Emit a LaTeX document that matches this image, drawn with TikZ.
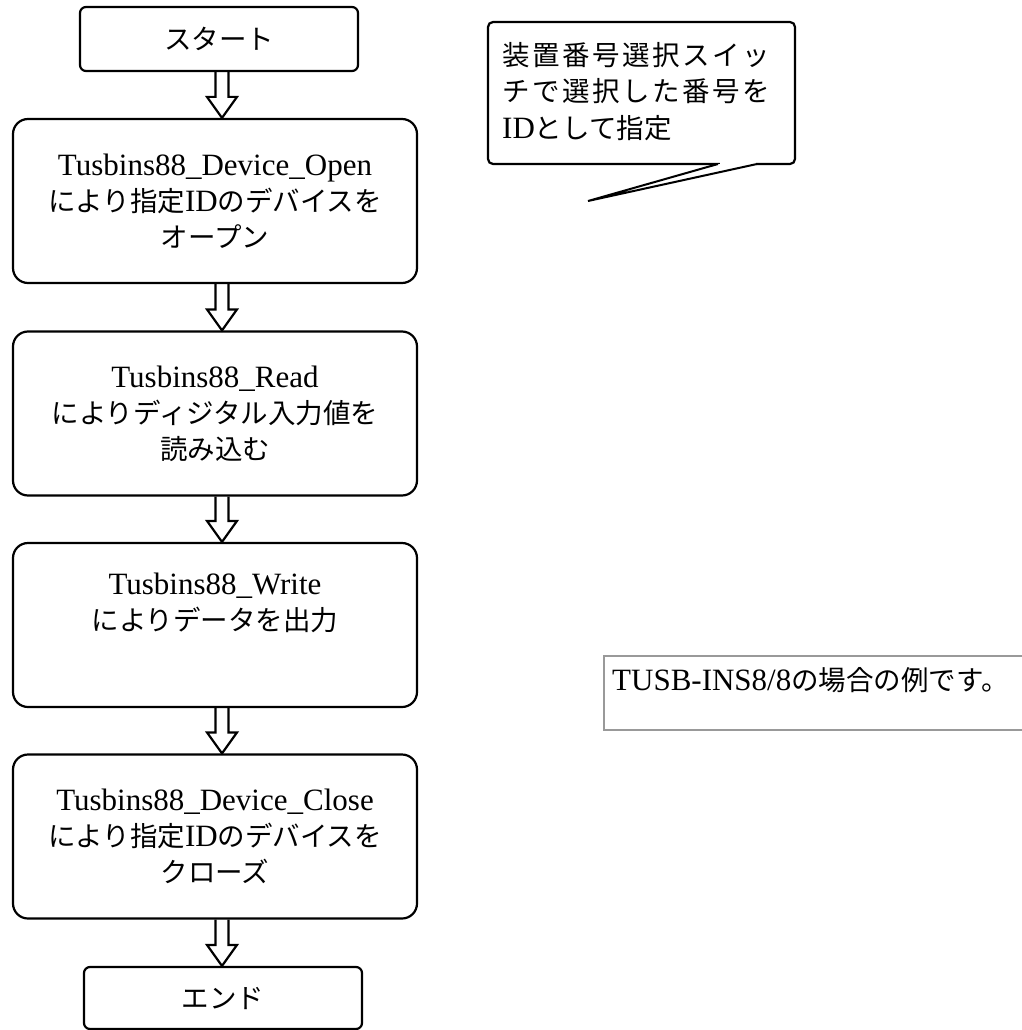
\documentclass[tikz,border=0pt]{standalone}
\usepackage{fontspec}
\setmainfont{Liberation Serif}
\newfontfamily\cjk{Noto Sans CJK JP}
\usetikzlibrary{calc}
\newcommand\J[1]{{\cjk\fontsize{27.5pt}{36pt}\selectfont #1}}
\newcommand\spchar[1]{\makebox[30.1pt][l]{#1}}
\def\spacedtext#1{\spacedaux#1\relax}
\def\spacedaux#1{\ifx#1\relax\else\spchar{#1}\expandafter\spacedaux\fi}
\newcommand\blockarrow[2]{%
  \draw[barrow] let \p1=(#1.south -| ax), \p2=(#2.north -| ax) in
    (\x1-6.5pt,\y1) -- (\x1-6.5pt,\y2+21pt) -- (\x1-15pt,\y2+21pt) -- (\x2,\y2)
    -- (\x1+15pt,\y2+21pt) -- (\x1+6.5pt,\y2+21pt) -- (\x1+6.5pt,\y1);}
\begin{document}
\begin{tikzpicture}[x=1pt,y=-1pt,
  flowbox/.style={draw, line width=2.2pt, rounded corners=15pt, minimum width=404pt,
    minimum height=164pt, inner sep=0pt, align=center,
    font=\fontsize{31pt}{36pt}\selectfont},
  termbox/.style={flowbox, rounded corners=6pt, minimum width=278pt, minimum height=64pt},
  barrow/.style={draw, line width=2.2pt, line join=miter},
  calloutbox/.style={draw, line width=2.2pt, rounded corners=5pt, minimum width=307pt,
    minimum height=142pt, inner sep=0pt},
  plaintext/.style={inner sep=0pt, align=left, font=\fontsize{31pt}{36.5pt}\selectfont}]
\useasboundingbox (0,0) rectangle (1021,1030);
\coordinate (ax) at (222,0);

\node[termbox] (start) at (219,39) {\J{スタート}};
\node[flowbox] (open) at (215,201)
  {Tusbins88\_Device\_Open\\ \J{により指定}ID\J{のデバイスを}\\ \J{オープン}};
\node[flowbox] (read) at (215,413.5)
  {Tusbins88\_Read\\ \J{によりディジタル入力値を}\\ \J{読み込む}};
\node[flowbox] (write) at (215,625)
  {Tusbins88\_Write\\ \J{によりデータを出力}\\ \strut};
\node[flowbox] (close) at (215,836.5)
  {Tusbins88\_Device\_Close\\ \J{により指定}ID\J{のデバイスを}\\ \J{クローズ}};
\node[termbox, minimum height=62pt] (end) at (223,998) {\J{エンド}};

\blockarrow{start}{open}
\blockarrow{open}{read}
\blockarrow{read}{write}
\blockarrow{write}{close}
\blockarrow{close}{end}

% callout
\node[calloutbox] (callout) at (641.5,93) {};
\fill[white] (718,164) -- (588,201) -- (757,164) -- cycle;
\draw[white, line width=3.2pt] (719.5,164) -- (755.5,164);
\draw[line width=2pt, line join=bevel] (718,164) -- (588,201) -- (757,164);
\node[plaintext, anchor=west] (calltext) at (502,91.5)
  {\J{\spacedtext{装置番号選択スイッ}}\\ \J{\spacedtext{チで選択した番号を}}\\ ID\J{として指定}};

% note
\draw[gray!80, line width=1.4pt] (1022,656) -- (604,656) -- (604,730) -- (1022,730);
\node[plaintext, anchor=west] (note) at (612,680)
  {TUSB-INS8/8\J{の場合の例です。}};
\end{tikzpicture}
\end{document}
